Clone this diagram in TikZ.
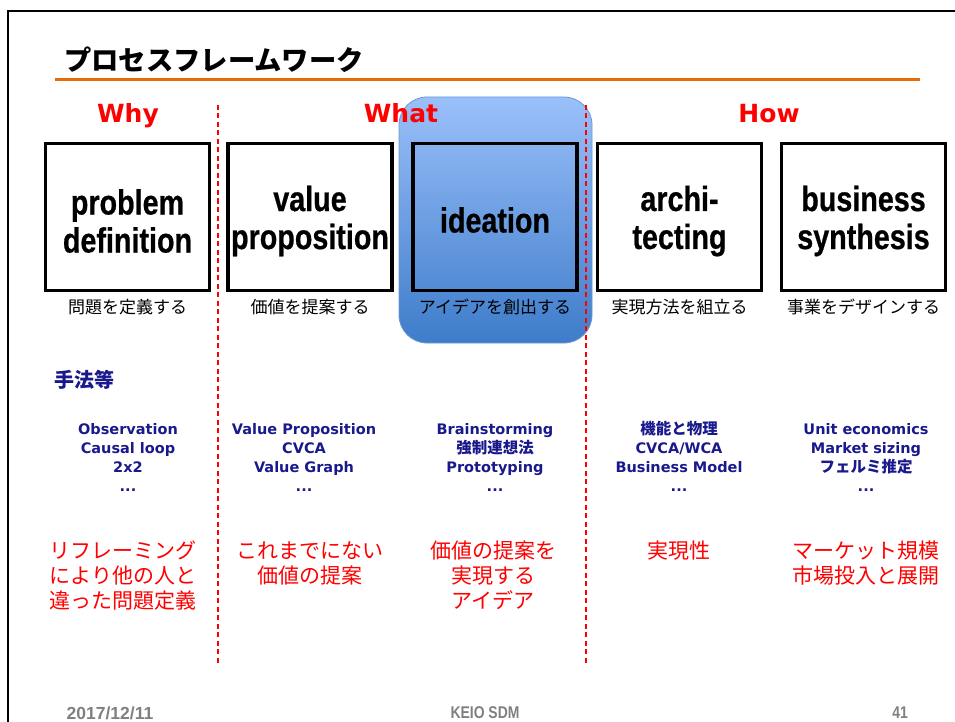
\documentclass[tikz,border=0pt]{standalone}
\usepackage{fontspec}
\setmainfont{DejaVu Sans}
\newfontfamily\jp{Noto Sans CJK JP}
\newfontfamily\boxf{Liberation Sans}[FakeStretch=0.82,FakeBold=0.6]
\newfontfamily\footf{Liberation Sans}
\newfontfamily\narrowf{Liberation Sans}[FakeStretch=0.82]
\definecolor{navyt}{RGB}{25,25,140}
\definecolor{orangeline}{RGB}{228,108,10}
\definecolor{blueTop}{RGB}{154,192,250}
\definecolor{blueBot}{RGB}{62,124,202}
\definecolor{blueEdge}{RGB}{110,150,210}
\definecolor{footgray}{RGB}{128,128,128}
\tikzset{
  procbox/.style={draw=black, line width=3.2pt, minimum width=164pt, minimum height=147pt,
    inner sep=0pt},
  boxtext/.style={inner sep=0pt, align=center, font=\boxf\bfseries\fontsize{35}{38}\selectfont},
  boxlabel/.style={inner sep=0pt, font=\jp\fontsize{17}{20}\selectfont},
  phase/.style={inner sep=0pt, anchor=base, text=red, font=\bfseries\fontsize{25}{30}\selectfont},
  methods/.style={inner sep=0pt, anchor=north, align=center, text=navyt,
    font=\bfseries\fontsize{14.5}{19}\selectfont},
  outcome/.style={inner sep=0pt, anchor=north, align=center, text=red,
    font=\jp\fontsize{21}{25}\selectfont},
  divider/.style={red, line width=1.2pt, dash pattern=on 5pt off 3.5pt},
  footer/.style={inner sep=0pt, text=footgray}
}
\newcommand{\jb}[1]{{\jp\bfseries\fontsize{15.5}{19}\selectfont #1}}
\begin{document}
\begin{tikzpicture}[x=1pt,y=-1pt]
\useasboundingbox (0,0) rectangle (955,722);
% frame
\draw[line width=2.5pt] (8,740) -- (8,11) -- (970,11);
% title
\node[anchor=west, inner sep=0pt, font=\jp\bfseries\fontsize{27.3}{32}\selectfont] (title) at (64,60) {プロセスフレームワーク};
\draw[orangeline, line width=3pt] (55,80) -- (920,80);
% highlight
\node[draw=blueEdge, line width=0.8pt, rounded corners=28pt, top color=blueTop, bottom color=blueBot,
  minimum width=193pt, minimum height=246pt, inner sep=0pt] (hl) at (495.5,220) {};
% dividers
\coordinate (d1t) at (218,105); \coordinate (d1b) at (218,663);
\coordinate (d2t) at (586,105); \coordinate (d2b) at (586,663);
\draw[divider] (d1t) -- (d1b);
\draw[divider] (d2t) -- (d2b);
% phases
\node[phase] (why) at (128,123) {Why};
\node[phase] (what) at (401,123) {What};
\node[phase] (how) at (769,123) {How};
% boxes
\node[procbox] (b1) at (127.5,217) {};
\node[procbox] (b2) at (310,217) {};
\node[procbox] (b3) at (495,217) {};
\node[procbox] (b4) at (679.5,217) {};
\node[procbox] (b5) at (863.5,217) {};
\node[boxtext] (t1) at ([yshift=-4pt]b1.center) {problem\\definition};
\node[boxtext] (t2) at ([yshift=-4pt]b2.center) {value\\proposition};
\node[boxtext] (t3) at ([yshift=-3pt]b3.center) {ideation};
\node[boxtext] (t4) at ([yshift=-4pt]b4.center) {archi-\\tecting};
\node[boxtext] (t5) at ([yshift=-4pt]b5.center) {business\\synthesis};
% labels
\node[boxlabel] (l1) at (127.5,307) {問題を定義する};
\node[boxlabel] (l2) at (310,307) {価値を提案する};
\node[boxlabel] (l3) at (495,307) {アイデアを創出する};
\node[boxlabel] (l4) at (679.5,307) {実現方法を組立る};
\node[boxlabel] (l5) at (863.5,307) {事業をデザインする};
% methods
\node[anchor=west, inner sep=0pt, text=navyt, font=\jp\bfseries\fontsize{20}{24}\selectfont] (mh) at (54,380) {手法等};
\node[methods] (m1) at (128,423) {Observation\\Causal loop\\2x2\\...};
\node[methods] (m2) at (304,423) {Value Proposition\\CVCA\\Value Graph\\...};
\node[methods] (m3) at (495,423) {Brainstorming\\\jb{強制連想法}\\Prototyping\\...};
\node[methods] (m4) at (679,421) {\jb{機能と物理}\\CVCA/WCA\\Business Model\\...};
\node[methods] (m5) at (866,423) {Unit economics\\Market sizing\\\jb{フェルミ推定}\\...};
% outcomes
\node[outcome] (o1) at (123,541) {リフレーミング\\により他の人と\\違った問題定義};
\node[outcome] (o2) at (310,541) {これまでにない\\価値の提案};
\node[outcome] (o3) at (493,541) {価値の提案を\\実現する\\アイデア};
\node[outcome] (o4) at (679,541) {実現性};
\node[outcome] (o5) at (866,541) {マーケット規模\\市場投入と展開};
% footer
\node[footer, font=\footf\bfseries\fontsize{17.5}{20}\selectfont] (date) at (110,713) {2017/12/11};
\node[footer, font=\narrowf\bfseries\fontsize{17}{20}\selectfont] (org) at (485,713) {KEIO SDM};
\node[footer, font=\narrowf\bfseries\fontsize{17}{20}\selectfont] (page) at (900,713) {41};
\end{tikzpicture}
\end{document}
